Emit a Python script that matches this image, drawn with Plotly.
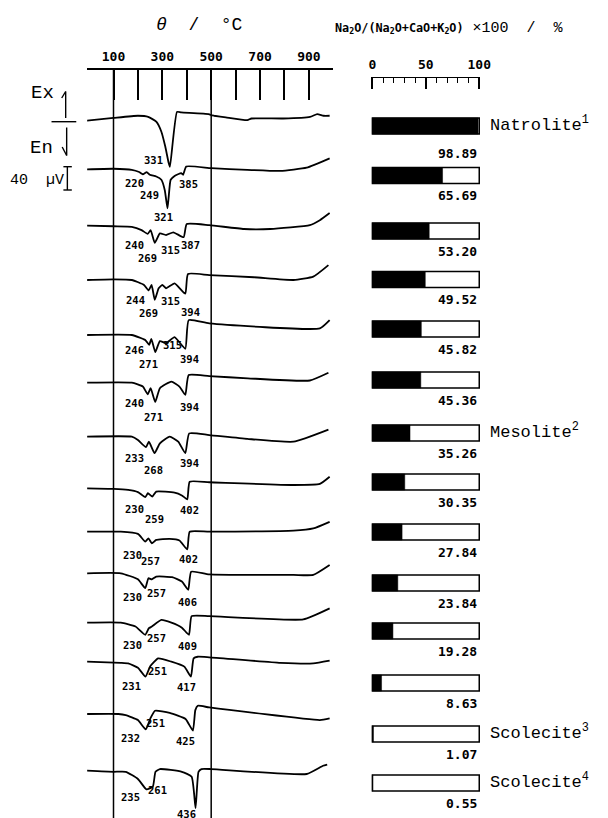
import numpy as np
import plotly.graph_objects as go

# ---------------- data ----------------
# DTA traces: temperature (°C) and signal (µV, exothermic up)
t_9889 = [-10, 100, 200, 242, 276, 296, 312, 326, 331, 360, 377, 490, 500, 512, 560, 648, 665, 795, 905, 934, 960, 985]
s_9889 = [0, 5, 9, 7, -2, -20, -47, -77, -84, 16, 15, 12, 10, 9, 6, 1, 4, 4, 7, 12, 9, 9]

t_6569 = [-10, 100, 175, 205, 220, 236, 249, 275, 296, 310, 321, 326, 334, 350, 364, 377, 385, 398, 500, 648, 783, 891, 985]
s_6569 = [0, 1, -1, -5, -9, -5, -10, -13, -19, -38, -71, -50, -19, -12, -9, -7, -10, 5, 2, -1, -3, 3, 20]

t_5320 = [-10, 100, 175, 215, 240, 252, 269, 290, 315, 345, 387, 400, 492, 634, 742, 904, 945, 985]
s_5320 = [0, -1, -2, -8, -15, -8, -31, -14, -17, -12, -21, 3, 1, -6, -6, 1, 10, 23]

t_4952 = [-10, 100, 175, 225, 244, 256, 269, 285, 300, 315, 350, 394, 405, 492, 675, 837, 918, 980]
s_4952 = [0, 1, 0, -9, -19, -9, -36, -15, -9, -15, -6, -25, 11, 9, 5, 0, 6, 27]

t_4582 = [-10, 175, 230, 246, 255, 271, 290, 315, 350, 394, 408, 492, 945, 985]
s_4582 = [0, 0, -9, -18, -7, -31, -11, -15, -4, -25, 27, 21, 12, 27]

t_4536 = [-10, 175, 220, 240, 252, 271, 290, 337, 370, 394, 408, 492, 650, 904, 980]
s_4536 = [0, 0, -7, -21, -10, -35, -10, 2, -7, -22, 14, 12, 8, 4, 18]

t_3526 = [-10, 175, 200, 233, 245, 268, 290, 330, 365, 394, 410, 492, 648, 837, 980]
s_3526 = [0, 0, -6, -19, -9, -30, -12, 0, -9, -30, 6, 3, -4, -9, 13]

t_3035 = [-10, 100, 160, 200, 230, 241, 259, 275, 350, 380, 402, 412, 492, 837, 945, 985]
s_3035 = [0, -1, -3, -7, -16, -9, -15, -6, -8, -13, -20, 12, 11, 6, 8, 21]

t_2784 = [-10, 130, 200, 230, 243, 257, 275, 330, 370, 402, 412, 492, 837, 918, 985]
s_2784 = [0, 0, -4, -18, -12, -21, -15, -13, -16, -32, 0, 0, 2, 6, 18]

t_2384 = [-10, 130, 200, 230, 243, 257, 275, 340, 380, 406, 418, 492, 837, 918, 985]
s_2384 = [0, 0, -11, -27, -9, -11, -6, -7, -15, -30, 3, -2, -3, -3, 15]

t_1928 = [-10, 130, 190, 230, 245, 257, 296, 337, 380, 409, 420, 492, 877, 985]
s_1928 = [0, 0, -7, -22, -10, -7, 5, 0, -9, -22, 12, 12, 6, 26]

t_863 = [-10, 130, 160, 200, 231, 251, 283, 337, 390, 417, 428, 445, 492, 783, 918, 985]
s_863 = [0, -2, -3, -11, -27, -8, 6, 0, -9, -27, 6, 9, 8, -2, -3, 2]

t_107 = [-10, 120, 150, 200, 232, 251, 270, 330, 395, 425, 435, 445, 492, 945, 985]
s_107 = [0, 0, -2, -11, -28, -8, 6, 2, -9, -30, 7, 15, 12, -11, -8]

t_055 = [-10, 100, 150, 200, 235, 261, 272, 290, 380, 420, 436, 448, 460, 500, 891, 958, 975]
s_055 = [0, -2, -2, -15, -34, -29, -2, 3, -2, -11, -68, -2, 3, 3, -6, 9, 11]

# labelled peak temperatures (°C) of each trace
peaks_9889 = [331]
peaks_6569 = [220, 249, 321, 385]
peaks_5320 = [240, 269, 315, 387]
peaks_4952 = [244, 269, 315, 394]
peaks_4582 = [246, 271, 315, 394]
peaks_4536 = [240, 271, 394]
peaks_3526 = [233, 268, 394]
peaks_3035 = [230, 259, 402]
peaks_2784 = [230, 257, 402]
peaks_2384 = [230, 257, 406]
peaks_1928 = [230, 257, 409]
peaks_863 = [231, 251, 417]
peaks_107 = [232, 251, 425]
peaks_055 = [235, 261, 436]

# Na2O/(Na2O+CaO+K2O) x 100 (%)
na_ratio = [98.89, 65.69, 53.20, 49.52, 45.82, 45.36, 35.26, 30.35, 27.84, 23.84, 19.28, 8.63, 1.07, 0.55]
mineral_names = {0: "Natrolite<sup>1</sup>", 6: "Mesolite<sup>2</sup>",
                 12: "Scolecite<sup>3</sup>", 13: "Scolecite<sup>4</sup>"}

temp_ticks = list(range(100, 1001, 100))
temp_ticklabels = ["100", "", "300", "", "500", "", "700", "", "900", ""]
pct_ticks = [0, 50, 100]

curves = [
    (t_9889, s_9889, peaks_9889), (t_6569, s_6569, peaks_6569), (t_5320, s_5320, peaks_5320),
    (t_4952, s_4952, peaks_4952), (t_4582, s_4582, peaks_4582), (t_4536, s_4536, peaks_4536),
    (t_3526, s_3526, peaks_3526), (t_3035, s_3035, peaks_3035), (t_2784, s_2784, peaks_2784),
    (t_2384, s_2384, peaks_2384), (t_1928, s_1928, peaks_1928), (t_863, s_863, peaks_863),
    (t_107, s_107, peaks_107), (t_055, s_055, peaks_055),
]

# ---------------- layout (pixel units) ----------------
W, H = 608, 818
UV_TO_PX = 22 / 40            # the 40 µV scale bar is 22 px tall
AXIS_TOP, BAR_AXIS_TOP = 70, 77
PX100, PX1000 = 111.6, 333.6  # x positions of 100 and 1000 °C
LEFT_PX = 85
T_LEFT = 100 + (LEFT_PX - PX100) * 900 / (PX1000 - PX100)
BAR0, BAR100 = 373, 481
BAR_PX = (BAR100 - BAR0) / 100

curve_base = [120.7, 169.3, 225.7, 280, 335, 382.7, 436.7, 488.3, 531.7, 573.3, 622.7, 661.7, 714, 770.7]
bar_center = [126, 175.5, 231, 279.5, 329, 380, 433, 482, 532, 583, 631, 683, 734, 783]
value_label_dy = [27] + [20] * 13

# peak-label offsets (px) from the peak point: right, down
label_offsets = [
    [(-16, -7)],
    [(-8, 9), (0, 20), (-4, 9), (5, 9)],
    [(-13, 11), (-7, 15.5), (4, 15), (6.5, 8)],
    [(-13, 9.5), (-6.6, 13), (4, 13), (5, 18)],
    [(-14.5, 5), (-7, 12), (6.5, 2), (4, 10.5)],
    [(-13, 9), (-1.5, 15), (4, 12)],
    [(-11.5, 11), (-1, 17), (4, 10)],
    [(-11, 12), (2, 22), (2, 11)],
    [(-12.5, 13), (-1, 18), (1.5, 10)],
    [(-13, 9), (5, 14), (-1, 12)],
    [(-13, 10), (5, 11), (-1.5, 11)],
    [(-14, 9.5), (7, 4.5), (-4.5, 10)],
    [(-15, 9), (5, 5), (-7.5, 10)],
    [(-15.5, 8), (4.5, 3), (-9.5, 6)],
]

MONO = "Liberation Mono"
BOLD_MONO = "DejaVu Sans Mono"


def px_x(p):
    return p / W


def px_y(p):
    return 1 - p / H


def paper_text(x, y, text, font, xanchor="center"):
    return dict(x=px_x(x), y=px_y(y), xref="paper", yref="paper", text=text,
                showarrow=False, xanchor=xanchor, yanchor="middle", font=font)


fig = go.Figure()
annotations = []

# DTA traces and peak labels
for i, (t, s, pk) in enumerate(curves):
    y = [curve_base[i] - v * UV_TO_PX for v in s]
    fig.add_trace(go.Scatter(
        x=t, y=y, mode="lines", xaxis="x", yaxis="y", hoverinfo="skip",
        line=dict(color="black", width=1.8, shape="spline", smoothing=0.45),
    ))
    for (temp, (dx, dy)) in zip(pk, label_offsets[i]):
        yv = curve_base[i] - float(np.interp(temp, t, s)) * UV_TO_PX
        annotations.append(dict(
            x=temp, y=yv, xref="x", yref="y", text=str(temp), showarrow=False,
            xshift=dx, yshift=-dy, xanchor="center", yanchor="middle",
            font=dict(family=BOLD_MONO, size=10.5, color="black", weight="bold"),
        ))

# composition bars: outline 0-100 and filled share
n = len(na_ratio)
fig.add_trace(go.Bar(
    orientation="h", x=[100] * n, y=bar_center, width=16, xaxis="x2", yaxis="y2",
    marker=dict(color="white", line=dict(color="black", width=1.5)), hoverinfo="skip",
))
fig.add_trace(go.Bar(
    orientation="h", x=na_ratio, y=bar_center, width=16, xaxis="x2", yaxis="y2",
    marker=dict(color="black", line=dict(color="black", width=0.5)), hoverinfo="skip",
))

for i, v in enumerate(na_ratio):
    annotations.append(dict(
        x=100, y=bar_center[i] + value_label_dy[i], xref="x2", yref="y2",
        text=f"{v:.2f}", showarrow=False, xanchor="right", yanchor="middle",
        font=dict(family=BOLD_MONO, size=13, color="black", weight="bold"),
    ))
for i, name in mineral_names.items():
    annotations.append(paper_text(BAR0 + 108.5 * BAR_PX, bar_center[i] - 2, name,
                                  dict(family=MONO, size=17, color="black"), xanchor="left"))

# axis titles
annotations.append(paper_text(198.5, 25, "<i>θ</i>\u00a0\u00a0/\u00a0\u00a0°C",
                              dict(family=MONO, size=18, color="black")))
annotations.append(paper_text(
    451, 29,
    ("<b>Na<sub>2</sub>O/(Na<sub>2</sub>O+CaO+K<sub>2</sub>O)</b>"
     "<span style='font-size:15px;font-family:Liberation Mono'>"
     "\u00a0×100\u00a0\u00a0/\u00a0\u00a0%</span>"),
    dict(family=BOLD_MONO, size=11.8, color="black")))

# signal direction and scale legend
annotations += [
    paper_text(40, 93, "Ex", dict(family=MONO, size=19, color="black")),
    paper_text(38.5, 148, "En", dict(family=MONO, size=19, color="black")),
    paper_text(34, 180, "40\u00a0\u00a0µV", dict(family=MONO, size=15, color="black")),
]

line_k = dict(color="black", width=1.5)
shapes = []
# long reference lines at 100 and 500 °C
for tv in (100, 500):
    shapes.append(dict(type="line", xref="x", yref="y", x0=tv, x1=tv,
                       y0=AXIS_TOP, y1=H, line=line_k))


def seg(x0, y0, x1, y1, w=1.4):
    shapes.append(dict(type="line", xref="paper", yref="paper",
                       x0=px_x(x0), y0=px_y(y0), x1=px_x(x1), y1=px_y(y1),
                       line=dict(color="black", width=w)))


seg(63.3, 118, 63.3, 91.5)       # Ex arrow
seg(63.3, 91.5, 59.3, 98)
seg(49, 121.7, 74, 121.7)        # zero mark
seg(64.3, 127.5, 64.3, 155.5)    # En arrow
seg(64.3, 155.5, 59.8, 147)
seg(65, 166.7, 65, 190)          # 40 µV bar
seg(61, 166.7, 69.5, 166.7)
seg(61, 190, 69.5, 190)

tick_font = dict(family=BOLD_MONO, size=13, color="black", weight="bold")
fig.update_layout(
    width=W, height=H, margin=dict(l=0, r=0, t=0, b=0),
    paper_bgcolor="white", plot_bgcolor="rgba(0,0,0,0)",
    showlegend=False, barmode="overlay", hovermode=False,
    xaxis=dict(domain=[px_x(LEFT_PX), px_x(PX1000)], range=[T_LEFT, 1000], anchor="y",
               side="top", showline=True, linecolor="black", linewidth=2,
               ticks="inside", ticklen=30, tickwidth=1.5, tickcolor="black",
               tickvals=temp_ticks, ticktext=temp_ticklabels, tickfont=tick_font,
               ticklabelstandoff=2, showgrid=False, zeroline=False, fixedrange=True),
    yaxis=dict(domain=[0, px_y(AXIS_TOP)], range=[H, AXIS_TOP], anchor="x",
               visible=False, fixedrange=True),
    xaxis2=dict(domain=[px_x(BAR0 - BAR_PX), px_x(BAR100 + 8 * BAR_PX)], range=[-1, 108],
                anchor="y2", side="top", showline=False,
                ticks="inside", ticklen=12, tickwidth=1.5, tickcolor="black",
                tickvals=pct_ticks, tickfont=tick_font, ticklabelstandoff=4,
                minor=dict(tickvals=list(range(10, 100, 10)), ticks="inside", ticklen=6,
                           tickwidth=1.3, tickcolor="black", showgrid=False),
                showgrid=False, zeroline=False, fixedrange=True),
    yaxis2=dict(domain=[0, px_y(BAR_AXIS_TOP)], range=[H, BAR_AXIS_TOP], anchor="x2",
                visible=False, fixedrange=True),
    annotations=annotations, shapes=shapes,
)
# scale line of the composition axis, spanning 0-100 %
fig.add_shape(type="line", xref="x2", yref="y2", x0=0, x1=100,
              y0=BAR_AXIS_TOP, y1=BAR_AXIS_TOP, line=dict(color="black", width=2))

fig.write_html("out.html", config={"displayModeBar": False})
